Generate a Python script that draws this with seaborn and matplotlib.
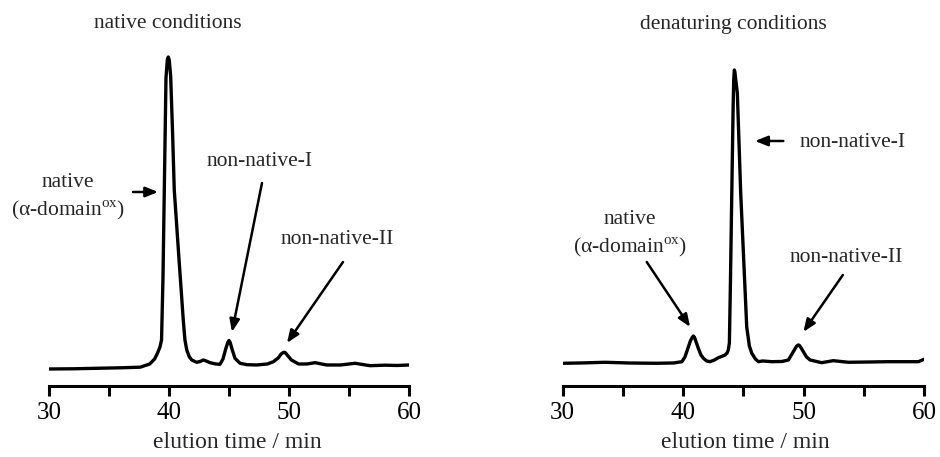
import pandas as pd
import matplotlib
matplotlib.use('Agg')
import matplotlib.pyplot as plt
import seaborn as sns

# traces (elution time in min, signal in arbitrary units)
native_time = [30.0, 32.0, 34.0, 36.0, 37.6, 38.4, 38.8, 39.05, 39.25, 39.38, 39.5, 39.61,
               39.75, 39.86, 39.94, 40.02, 40.14, 40.3, 40.44, 40.8, 41.19, 41.33, 41.48,
               41.7, 41.9, 42.3, 42.6, 42.86, 43.1, 43.42, 43.9, 44.25, 44.5, 44.75, 44.9,
               45.0, 45.1, 45.25, 45.5, 45.92, 46.5, 47.3, 48.2, 48.7, 49.1, 49.35, 49.5,
               49.6, 49.7, 49.85, 50.2, 50.8, 51.5, 52.17, 53.14, 54.3, 55.5, 56.75, 58.0,
               59.0, 60.0]
native_signal = [-1.0, -0.8, -0.3, 0.2, 0.8, 4.0, 9.0, 15.0, 21.0, 28.0, 90.0, 178.0,
                 290.0, 308.0, 311.0, 308.0, 292.0, 235.0, 178.0, 115.0, 48.0, 28.0, 18.0,
                 11.0, 8.0, 5.7, 6.5, 8.0, 7.0, 5.3, 4.0, 3.7, 9.0, 20.0, 25.5,
                 27.5, 25.5, 19.0, 9.7, 4.7, 3.3, 3.0, 4.0, 6.3, 10.0, 14.0, 15.3,
                 15.7, 15.3, 13.0, 8.0, 4.0, 4.0, 5.3, 3.0, 3.0, 4.7, 2.3, 2.8,
                 2.5, 3.0]

denat_time = [30.0, 31.5, 33.5, 35.5, 37.7, 39.2, 39.9, 40.15, 40.35, 40.6, 40.75, 40.85,
              40.95, 41.05, 41.26, 41.48, 41.68, 41.95, 42.23, 42.6, 42.92, 43.2, 43.48,
              43.65, 43.75, 43.84, 43.92, 44.04, 44.15, 44.2, 44.25, 44.3, 44.35, 44.5,
              44.78, 45.28, 45.5, 45.7, 46.0, 46.25, 46.6, 47.36, 48.2, 48.74, 49.15,
              49.4, 49.5, 49.57, 49.65, 49.75, 49.98, 50.25, 50.54, 51.5, 52.47, 53.72,
              55.5, 57.04, 59.54, 60.0]
denat_signal = [4.7, 5.0, 5.7, 5.0, 4.7, 5.0, 6.3, 11.0, 18.0, 27.0, 30.5, 32.0,
                30.5, 27.0, 19.7, 13.0, 9.7, 7.0, 6.3, 8.0, 10.3, 11.5, 13.0,
                15.0, 18.0, 25.0, 80.0, 175.0, 260.0, 288.0, 298.0, 296.0, 290.0, 275.0,
                175.0, 41.0, 22.0, 14.7, 9.0, 6.3, 7.0, 6.3, 6.5, 8.0, 16.3,
                21.5, 22.6, 23.0, 22.6, 21.0, 16.3, 11.0, 8.0, 5.3, 7.3, 5.7,
                6.0, 6.3, 6.3, 8.7]

panel_titles = ['native conditions', 'denaturing conditions']
x_ticks = [30, 35, 40, 45, 50, 55, 60]
x_ticklabels = ['30', '', '40', '', '50', '', '60']
x_label = 'elution time / min'

sns.set_theme(style='ticks')
plt.rcParams['font.family'] = ['Liberation Serif', 'DejaVu Serif']
plt.rcParams['mathtext.fontset'] = 'custom'
plt.rcParams['mathtext.rm'] = 'Liberation Serif'

fig = plt.figure(figsize=(9.4, 4.57), dpi=100)
ax1 = fig.add_axes([0.0521, 0.1554, 0.383, 0.7352])
ax2 = fig.add_axes([0.5986, 0.1554, 0.3844, 0.7352])

df1 = pd.DataFrame({'time': native_time, 'signal': native_signal})
df2 = pd.DataFrame({'time': denat_time, 'signal': denat_signal})

for ax, df, lx in [(ax1, df1, 0.522), (ax2, df2, 0.505)]:
    sns.lineplot(data=df, x='time', y='signal', ax=ax, color='black', lw=2.4,
                 estimator=None)
    ax.set_xlim(30, 60)
    ax.set_ylim(-18, 318)
    ax.set_xticks(x_ticks)
    ax.set_xticklabels(x_ticklabels)
    ax.set_yticks([])
    ax.set_ylabel('')
    ax.set_xlabel(x_label, fontsize=17, labelpad=6, x=lx)
    ax.tick_params(axis='x', direction='out', length=7.2, width=2.2, pad=4,
                   labelsize=18, colors='black')
    sns.despine(ax=ax, left=True)
    ax.spines['bottom'].set_linewidth(2.2)
    ax.spines['bottom'].set_color('black')

fs = 15.5
arrow = dict(arrowstyle='-|>,head_length=0.5,head_width=0.2', lw=1.8,
             color='black', shrinkA=0, shrinkB=0, mutation_scale=15)

# native conditions labels
ax1.text(31.58, 185, 'native', fontsize=fs, ha='center', va='center')
ax1.text(31.58, 158, '(α-domain$^{\\mathrm{ox}}$)', fontsize=fs, ha='center', va='center')
ax1.annotate('', xy=(39.1, 176), xytext=(37.0, 176), arrowprops=arrow)
ax1.text(47.56, 206, 'non-native-I', fontsize=fs, ha='center', va='center')
ax1.annotate('', xy=(45.25, 36), xytext=(47.75, 185), arrowprops=arrow)
ax1.text(54.04, 128, 'non-native-II', fontsize=fs, ha='center', va='center')
ax1.annotate('', xy=(49.83, 25), xytext=(54.5, 106), arrowprops=arrow)

# denaturing conditions labels
ax2.text(54.11, 225, 'non-native-I', fontsize=fs, ha='center', va='center')
ax2.annotate('', xy=(45.97, 227), xytext=(48.32, 227), arrowprops=arrow)
ax2.text(35.59, 148, 'native', fontsize=fs, ha='center', va='center')
ax2.text(35.59, 121, '(α-domain$^{\\mathrm{ox}}$)', fontsize=fs, ha='center', va='center')
ax2.annotate('', xy=(40.58, 41), xytext=(36.98, 106), arrowprops=arrow)
ax2.text(53.53, 110, 'non-native-II', fontsize=fs, ha='center', va='center')
ax2.annotate('', xy=(49.98, 36), xytext=(53.26, 93), arrowprops=arrow)

fig.text(168 / 940, 1 - 24 / 457, panel_titles[0], fontsize=fs, ha='center', va='center')
fig.text(733.8 / 940, 1 - 24 / 457, panel_titles[1], fontsize=fs, ha='center', va='center')

fig.savefig('out.png', dpi=100)
